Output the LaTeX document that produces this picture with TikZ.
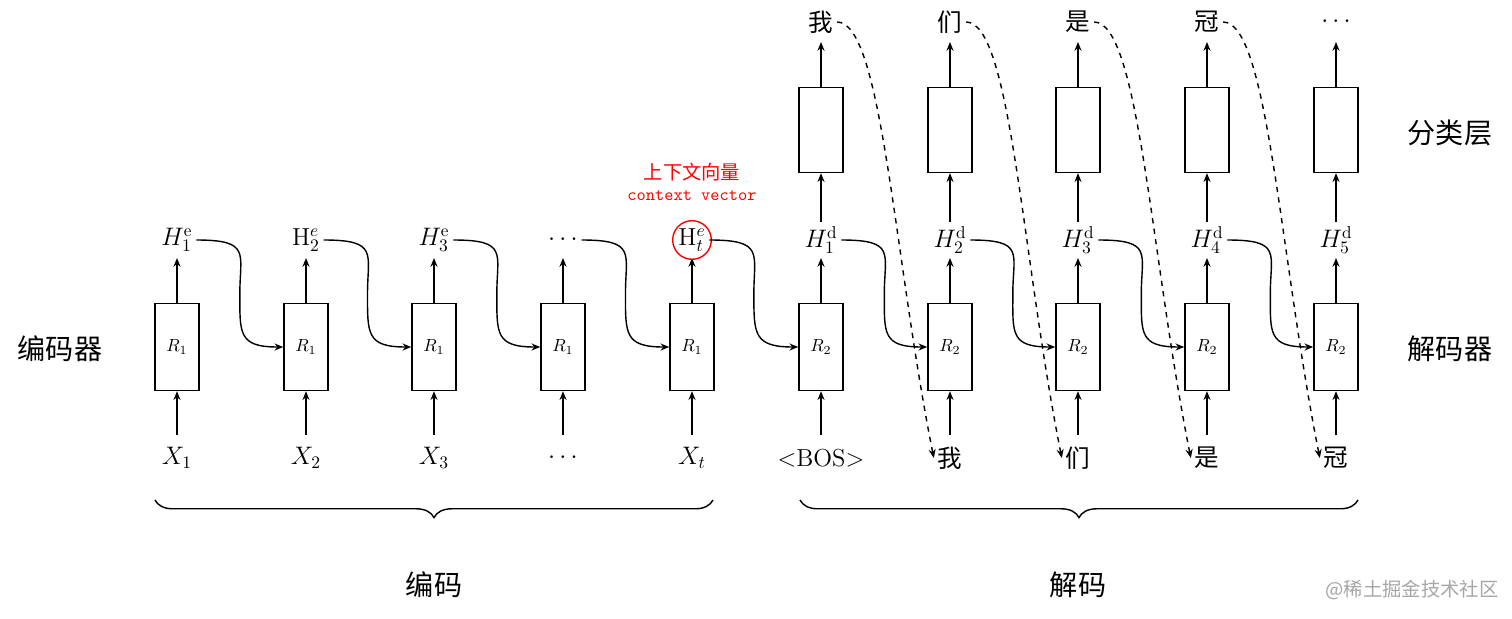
\documentclass[tikz,border=0pt]{standalone}
\usepackage{fontspec}
\newfontfamily\cjk{Noto Sans CJK SC}
\usetikzlibrary{arrows.meta,decorations.pathreplacing,positioning,calc}
\tikzset{
  cell/.style={draw, thick, minimum width=0.88cm, minimum height=1.74cm, inner sep=0pt, font=\fontsize{10}{12}\selectfont},
  cls/.style={draw, thick, minimum width=0.88cm, minimum height=1.7cm, inner sep=0pt},
  lab/.style={font=\fontsize{14}{16}\selectfont, inner sep=2pt},
  arr/.style={thick, -{Stealth[length=5pt,width=4pt]}},
}
\begin{document}
\begin{tikzpicture}[x=0.02cm, y=-0.02cm]
  \useasboundingbox (0,0) rectangle (1512,619);
  % cells, inputs and hidden states
  \foreach \i/\x/\r/\inp/\hid in {
      1/177/R_1/$X_1$/$H_1^{\mathrm{e}}$,
      2/306/R_1/$X_2$/$\mathrm{H}_2^{e}$,
      3/434/R_1/$X_3$/$H_3^{\mathrm{e}}$,
      4/563/R_1/$\cdots$/$\cdots$,
      5/692/R_1/$X_t$/$\mathrm{H}_t^{e}$,
      6/821/R_2/{<BOS>}/$H_1^{\mathrm{d}}$,
      7/950/R_2/{\cjk 我}/$H_2^{\mathrm{d}}$,
      8/1078/R_2/{\cjk 们}/$H_3^{\mathrm{d}}$,
      9/1207/R_2/{\cjk 是}/$H_4^{\mathrm{d}}$,
      10/1336/R_2/{\cjk 冠}/$H_5^{\mathrm{d}}$} {
    \node[cell] (b\i) at (\x,347) {$\r$};
    \node[lab] (x\i) at (\x,458) {\inp};
    \node[lab] (h\i) at (\x,240) {\hid};
    \draw[arr] (\x,435) -- (b\i.south);
    \draw[arr] (b\i.north) -- (\x,258);
  }
  % context vector
  \draw[red, thick] (h5) circle (11pt);
  \node[red, font=\cjk\fontsize{11}{13}\selectfont] (ctxzh) at (692,172) {上下文向量};
  \node[red, font=\ttfamily\fontsize{10}{12}\selectfont] (ctxen) at (692,196) {context vector};
  % recurrent connections
  \foreach \i [count=\j from 2] in {1,...,9} {
    \draw[arr] (h\i.east) .. controls +(55,0) and +(0,-40) .. ($(h\i.east)!0.5!(b\j.west)$) .. controls +(0,40) and +(-45,0) .. (b\j.west);
  }
  % classifier layer
  \foreach \i/\x/\w in {6/821/我,7/950/们,8/1078/是,9/1207/冠,10/1336/$\cdots$} {
    \node[cls] (c\i) at (\x,130) {};
    \node[lab, font=\cjk\fontsize{14}{16}\selectfont] (o\i) at (\x,22) {\w};
    \draw[arr] (\x,222) -- (c\i.south);
    \draw[arr] (c\i.north) -- (\x,42);
  }
  % feed back predicted word
  \foreach \i [count=\j from 7] in {6,...,9} {
    \draw[arr, dashed] (o\i.east) .. controls +(45,0) and +(-40,-200) .. (x\j.west);
  }
  % braces
  \draw[thick, decorate, decoration={brace, mirror, amplitude=10pt}] (155,500) coordinate (encl) -- (713,500) coordinate (encr);
  \draw[thick, decorate, decoration={brace, mirror, amplitude=10pt}] (800,500) coordinate (decl) -- (1358,500) coordinate (decr);
  \node[lab, font=\cjk\fontsize{16}{18}\selectfont] (enc) at (434,585) {编码};
  \node[lab, font=\cjk\fontsize{16}{18}\selectfont] (dec) at (1078,585) {解码};
  \node[lab, font=\cjk\fontsize{16}{18}\selectfont] (encoder) at (60,349) {编码器};
  \node[lab, font=\cjk\fontsize{16}{18}\selectfont] (decoder) at (1450,349) {解码器};
  \node[lab, font=\cjk\fontsize{16}{18}\selectfont] (layer) at (1450,133) {分类层};
  \node[gray!70, font=\cjk\fontsize{11}{13}\selectfont] (mark) at (1412,590) {@稀土掘金技术社区};
\end{tikzpicture}
\end{document}
